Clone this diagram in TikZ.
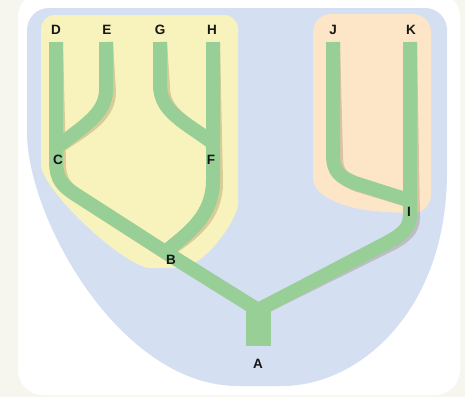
\documentclass[tikz,border=0pt]{standalone}
\usepackage{fontspec}
\setmainfont{Liberation Sans}
\definecolor{bgoff}{HTML}{F7F6EE}
\definecolor{shieldblue}{HTML}{D4E0F2}
\definecolor{yellowgrp}{HTML}{F8F3BC}
\definecolor{orangegrp}{HTML}{FDE6C7}
\definecolor{branchgreen}{HTML}{97CF97}
\definecolor{shadowbrown}{HTML}{7A5A30}
\definecolor{labelblack}{HTML}{161616}
\begin{document}
\begin{tikzpicture}[x=1pt,y=-1pt,
  branch/.style={draw=branchgreen,line width=14pt,line join=round},
  branchshadow/.style={draw=shadowbrown,draw opacity=0.25,line width=14pt,line join=round,xshift=3pt,yshift=-2pt},
  lbl/.style={font=\fontsize{13.5}{15}\selectfont\bfseries,text=labelblack,inner sep=0pt}]
\useasboundingbox (0,0) rectangle (465,397);
\fill[bgoff] (0,0) rectangle (465,397);
\fill[white,rounded corners=25pt] (18,-8) rectangle (460,395);
% blue shield
\fill[shieldblue,rounded corners=22pt] (200,8) -- (447,8) -- (447,150)
  .. controls (447,310) and (360,386) .. (260,386)
  .. controls (120,386) and (27,218) .. (27,110) -- (27,8) -- cycle;
% yellow group
\fill[yellowgrp,rounded corners=14pt] (140,15) -- (238,15) -- (238,190)
  .. controls (238,218) and (205,268) .. (165,268)
  .. controls (125,268) and (41,190) .. (41,150) -- (41,15) -- cycle;
% orange group
\fill[orangegrp,rounded corners=18pt] (372,14) -- (431,14) -- (431,213) -- (395,213)
  .. controls (340,208) and (313,195) .. (313,160) -- (313,14) -- cycle;
% coordinates
\coordinate (Dt) at (56,42);
\coordinate (Et) at (106,42);
\coordinate (Gt) at (160,42);
\coordinate (Ht) at (213,42);
\coordinate (Jt) at (333,42);
\coordinate (Kt) at (410,42);
\coordinate (Cj) at (56,148);
\coordinate (Fj) at (213,143);
\coordinate (Bj) at (165,252);
\coordinate (Ij) at (408,200);
\coordinate (Aj) at (258,310);
\coordinate (Aj0) at (258,303);
\coordinate (Ab) at (258,346);
% shadows
\draw[branchshadow]
  (Dt) -- (56,160) .. controls (56,180) and (62,186) .. (78,196) -- (Bj) -- (Aj)
  (Et) -- (106,90) .. controls (106,115) and (80,128) .. (Cj)
  (Gt) -- (160,85) .. controls (160,112) and (185,122) .. (Fj)
  (Ht) -- (213,180) .. controls (213,215) and (190,232) .. (Bj)
  (Jt) -- (333,155) .. controls (333,172) and (340,177) .. (355,183) -- (Ij)
  (Kt) -- (410,215) .. controls (410,228) and (402,234) .. (390,241) -- (Aj);
% branches
\draw[branch]
  (Dt) -- (56,160) .. controls (56,180) and (62,186) .. (78,196) -- (Bj) -- (Aj)
  (Et) -- (106,90) .. controls (106,115) and (80,128) .. (Cj)
  (Gt) -- (160,85) .. controls (160,112) and (185,122) .. (Fj)
  (Ht) -- (213,180) .. controls (213,215) and (190,232) .. (Bj)
  (Jt) -- (333,155) .. controls (333,172) and (340,177) .. (355,183) -- (Ij)
  (Kt) -- (410,215) .. controls (410,228) and (402,234) .. (390,241) -- (Aj);
\draw[draw=branchgreen,line width=25pt] (Aj0) -- (Ab);
% labels
\node[lbl] (D) at (56,30) {D};
\node[lbl] (E) at (107,30) {E};
\node[lbl] (G) at (160,30) {G};
\node[lbl] (H) at (212,30) {H};
\node[lbl] (J) at (333,30) {J};
\node[lbl] (K) at (411,30) {K};
\node[lbl] (C) at (58,160) {C};
\node[lbl] (F) at (211,160) {F};
\node[lbl] (B) at (171,260) {B};
\node[lbl] (I) at (409,212) {I};
\node[lbl] (A) at (258,364) {A};
\end{tikzpicture}
\end{document}
